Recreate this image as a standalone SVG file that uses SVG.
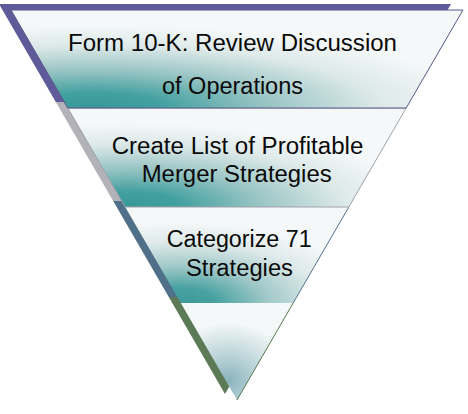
<svg xmlns="http://www.w3.org/2000/svg" width="468" height="414" viewBox="0 0 468 414">
<defs>
<radialGradient id="g1" cx="0.18" cy="1" r="0.85">
<stop offset="0" stop-color="#389898"/><stop offset="0.18" stop-color="#42a0a0"/><stop offset="0.45" stop-color="#98c4c4"/><stop offset="0.75" stop-color="#dde9e9"/><stop offset="1" stop-color="#f5f8f8"/>
</radialGradient>
<radialGradient id="g2" cx="0.18" cy="1" r="0.85">
<stop offset="0" stop-color="#389898"/><stop offset="0.18" stop-color="#42a0a0"/><stop offset="0.45" stop-color="#98c4c4"/><stop offset="0.75" stop-color="#dde9e9"/><stop offset="1" stop-color="#f5f8f8"/>
</radialGradient>
<radialGradient id="g3" cx="0.25" cy="1" r="0.85">
<stop offset="0" stop-color="#3c9a9a"/><stop offset="0.18" stop-color="#48a1a1"/><stop offset="0.45" stop-color="#a0c8c8"/><stop offset="0.75" stop-color="#dfeaea"/><stop offset="1" stop-color="#f5f8f8"/>
</radialGradient>
<radialGradient id="g4" cx="0.42" cy="0.8" r="0.6">
<stop offset="0" stop-color="#8ab3bd"/><stop offset="0.45" stop-color="#bcd5d9"/><stop offset="1" stop-color="#f4f8f8"/>
</radialGradient>
</defs>
<style>
.t{font-family:"Liberation Sans",Arial,sans-serif;font-size:23px;fill:#0a0a0a;text-anchor:middle}
</style>
<g id="shadow">
<polygon points="-1,4 451,4 394.2,102 55.8,102" fill="#5f5b9b"/>
<polygon points="55.8,102 394.2,102 336.8,201 113.2,201" fill="#b2b2b8"/>
<polygon points="113.2,201 336.8,201 281.2,297 168.8,297" fill="#4f7088"/>
<polygon points="168.8,297 281.2,297 225,394" fill="#5b7a55"/>
</g>
<g id="band4">
<polygon points="180.8,303 293.2,303 237,400" fill="url(#g4)"/>
<line x1="293.2" y1="303" x2="237" y2="400" stroke="#56774f" stroke-width="1"/>
</g>
<g id="band3">
<polygon points="125.2,207 348.8,207 293.2,303 180.8,303" fill="url(#g3)"/>
<line x1="348.8" y1="207" x2="293.2" y2="303" stroke="#53708a" stroke-width="1"/>
<text class="t" x="239.2" y="247" textLength="145" lengthAdjust="spacingAndGlyphs">Categorize 71</text>
<text class="t" x="239.5" y="276" textLength="107" lengthAdjust="spacingAndGlyphs">Strategies</text>
</g>
<g id="band2">
<polygon points="67.8,108 406.2,108 348.8,207 125.2,207" fill="url(#g2)" stroke="#a0a0aa" stroke-width="1"/>
<text class="t" x="237.5" y="154" textLength="251.6" lengthAdjust="spacingAndGlyphs">Create List of Profitable</text>
<text class="t" x="236.7" y="182" textLength="190" lengthAdjust="spacingAndGlyphs">Merger Strategies</text>
</g>
<g id="band1">
<polygon points="11,10 463,10 406.2,108 67.8,108" fill="url(#g1)" stroke="#58568a" stroke-width="1"/>
<text class="t" x="232.5" y="51" textLength="329" lengthAdjust="spacingAndGlyphs">Form 10-K: Review Discussion</text>
<text class="t" x="232.5" y="94" textLength="141" lengthAdjust="spacingAndGlyphs">of Operations</text>
</g>
<g id="connectors"/>
</svg>
